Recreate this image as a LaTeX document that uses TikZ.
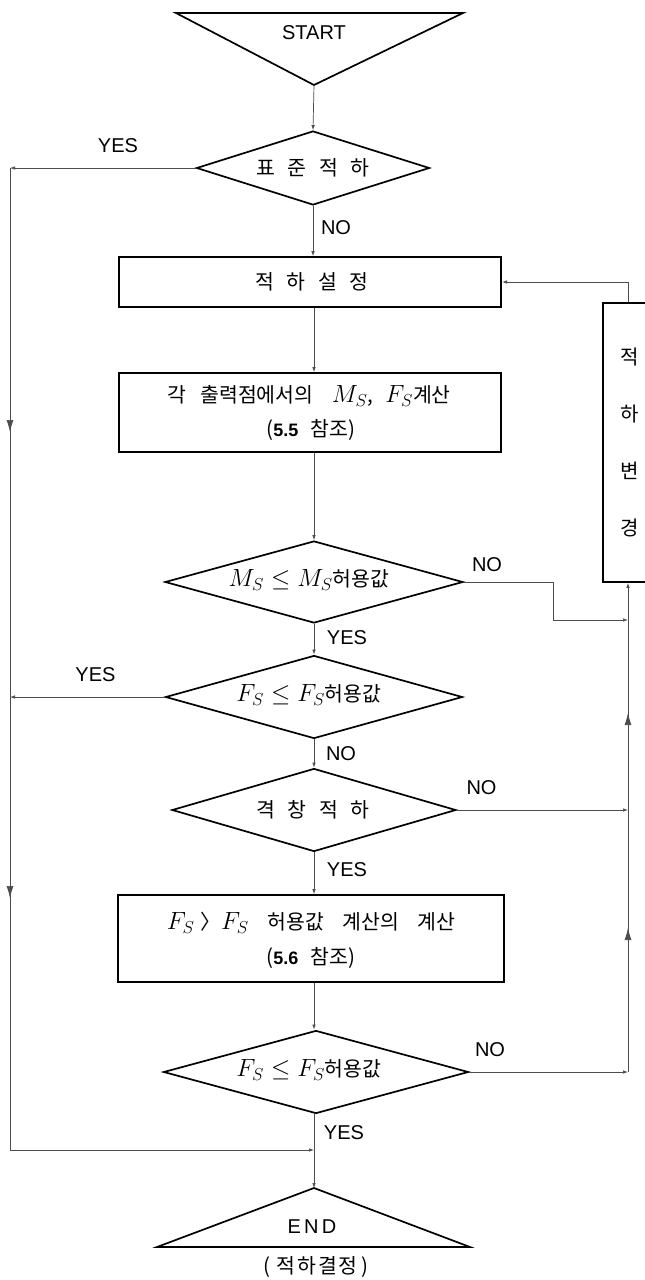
\documentclass[tikz,border=0pt]{standalone}
\usepackage{fontspec}
\setmainfont{Liberation Sans}
\newfontfamily\kr{Noto Sans CJK KR}
\newfontfamily\lat{Liberation Sans}
\usetikzlibrary{shapes.geometric,arrows.meta,decorations.markings}
\newcommand{\ks}{\hspace{0.6em}}
\newcommand{\bm}[1]{{\fontsize{23}{25}\selectfont$#1$}}
\begin{document}
\begin{tikzpicture}[x=1pt,y=-1pt,
  box/.style={draw=black, line width=1.7pt, rectangle, inner sep=0pt},
  dia/.style={draw=black, line width=1.7pt, diamond, inner sep=0pt, aspect=1},
  conn/.style={draw=black!70, line width=0.7pt, -{Latex[length=5pt,width=3.5pt]}},
  plain/.style={draw=black!70, line width=0.7pt},
  lbl/.style={font=\lat\fontsize{20}{22}\selectfont, inner sep=0pt},
  ktext/.style={font=\kr\fontsize{20.5}{24}\selectfont, align=center, inner sep=0pt},
  bigdown/.style={postaction={decorate}, decoration={markings,
     mark=at position 264pt with {\arrow{Latex[length=12pt,width=7pt]}},
     mark=at position 730pt with {\arrow{Latex[length=12pt,width=7pt]}}}},
  bigup/.style={postaction={decorate}, decoration={markings,
     mark=at position 144pt with {\arrow{Latex[length=12pt,width=7pt]}},
     mark=at position 359pt with {\arrow{Latex[length=12pt,width=7pt]}}}},
]
\useasboundingbox (0,0) rectangle (645,1280);
\fill[white] (0,0) rectangle (645,1280);

% START triangle
\draw[line width=1.7pt, line join=miter] (176,13) -- (463,13) -- (314,85) -- cycle;
\coordinate (sa) at (314,85);
\node[lbl] (start) at (314,33) {START};

% decision 1
\node[dia, minimum width=233pt, minimum height=74pt] (d1) at (313,168) {};
\node[ktext] (d1t) at (313,168) {표\ks 준\ks 적\ks 하};

% box 1
\node[box, minimum width=382.5pt, minimum height=50pt] (b1) at (310,282) {};
\node[ktext] (b1t) at (312,282) {적\ks 하\ks 설\ks 정};

% box 2
\node[box, minimum width=382.5pt, minimum height=79pt] (b2) at (310,412.5) {};
\node[ktext] (b2t) at (309,396) {각\hspace{0.7em}출력점에서의\hspace{0.9em}\bm{M_S},\hspace{0.6em}\bm{F_S}계산};
\node[ktext] (b2u) at (311,430) {({\lat\bfseries\fontsize{18}{20}\selectfont 5.5}\ks 참조)};

% decision 2
\node[dia, minimum width=298pt, minimum height=82pt] (d2) at (314,582) {};
\node[ktext] (d2t) at (309,580) {\bm{M_S\leq M_S}허용값};

% decision 3
\node[dia, minimum width=297pt, minimum height=83pt] (d3) at (314,697) {};
\node[ktext] (d3t) at (309,695) {\bm{F_S\leq F_S}허용값};

% decision 4
\node[dia, minimum width=284pt, minimum height=83pt] (d4) at (314,810) {};
\node[ktext] (d4t) at (313,810) {격\ks 창\ks 적\ks 하};

% box 3
\node[box, minimum width=385.5pt, minimum height=87pt] (b3) at (311,938.5) {};
\node[ktext] (b3t) at (311,923) {\bm{F_S}\hspace{0.3em}〉\bm{F_S}\hspace{0.9em}허용값\hspace{0.9em}계산의\hspace{0.9em}계산};
\node[ktext] (b3u) at (311,958) {({\lat\bfseries\fontsize{18}{20}\selectfont 5.6}\ks 참조)};

% decision 5
\node[dia, minimum width=305pt, minimum height=83pt] (d5) at (316,1072) {};
\node[ktext] (d5t) at (309,1070) {\bm{F_S\leq F_S}허용값};

% END triangle
\draw[line width=1.7pt, line join=miter] (314,1188) -- (470,1247) -- (157,1247) -- cycle;
\coordinate (ea) at (314,1188);
\node[lbl] (endt) at (312,1227) {E\,N\,D};
\node[ktext] (endu) at (316,1267) {(\hspace{0.3em}적\hspace{0.1em}하\hspace{0.1em}결\hspace{0.1em}정\hspace{0.2em})};

% right box
\node[box, minimum width=50pt, minimum height=279pt] (r) at (628,442.5) {};
\node[font=\kr\fontsize{20}{57}\selectfont, align=center] (rt) at (630,442.5) {적\\하\\변\\경};

% main flow
\draw[conn] (sa) -- (d1.north);
\draw[conn] (d1.south) -- (b1.north -| d1.south);
\draw[conn] (b1.south -| sa) -- (b2.north -| sa);
\draw[conn] (b2.south -| sa) -- (d2.north);
\draw[conn] (d2.south) -- (d3.north);
\draw[conn] (d3.south) -- (d4.north);
\draw[conn] (d4.south) -- (b3.north -| d4.south);
\draw[conn] (b3.south -| sa) -- (d5.north -| sa);
\draw[conn] (d5.south -| sa) -- (ea);

% labels on main flow
\node[lbl] (n1) at (336,228) {NO};
\node[lbl] (y2) at (347,638) {YES};
\node[lbl] (n3) at (341,754) {NO};
\node[lbl] (y4) at (347,870) {YES};
\node[lbl] (y5) at (344,1133) {YES};

% left side
\coordinate (L1) at (10,168);
\coordinate (L3) at (10,697);
\coordinate (LB) at (10,1150);
\coordinate (MB) at (314,1150);
\draw[conn] (d1.west) -- (L1);
\draw[conn] (d3.west) -- (L3);
\draw[plain, bigdown, -{Latex[length=5pt,width=3.5pt]}] (L1) -- (LB) -- (MB);
\node[lbl] (y1) at (118,146) {YES};
\node[lbl] (y3) at (95.5,675) {YES};

% right side
\coordinate (R2a) at (553,582);
\coordinate (R2b) at (553,620);
\coordinate (R2c) at (628,620);
\coordinate (R4) at (628,810);
\coordinate (R5) at (628,1072);
\coordinate (RT) at (628,282);
\draw[plain] (d2.east) -- (R2a) -- (R2b);
\draw[conn] (R2b) -- (R2c);
\draw[conn] (d4.east) -- (R4);
\draw[conn] (d5.east) -- (R5);
\draw[plain, bigup, -{Latex[length=5pt,width=3.5pt]}] (R5) -- (r.south);
\draw[plain] (r.north) -- (RT);
\draw[conn] (RT) -- (b1.east);
\node[lbl] (n2) at (487,565) {NO};
\node[lbl] (n4) at (481.5,788) {NO};
\node[lbl] (n5) at (490,1050) {NO};
\end{tikzpicture}
\end{document}
